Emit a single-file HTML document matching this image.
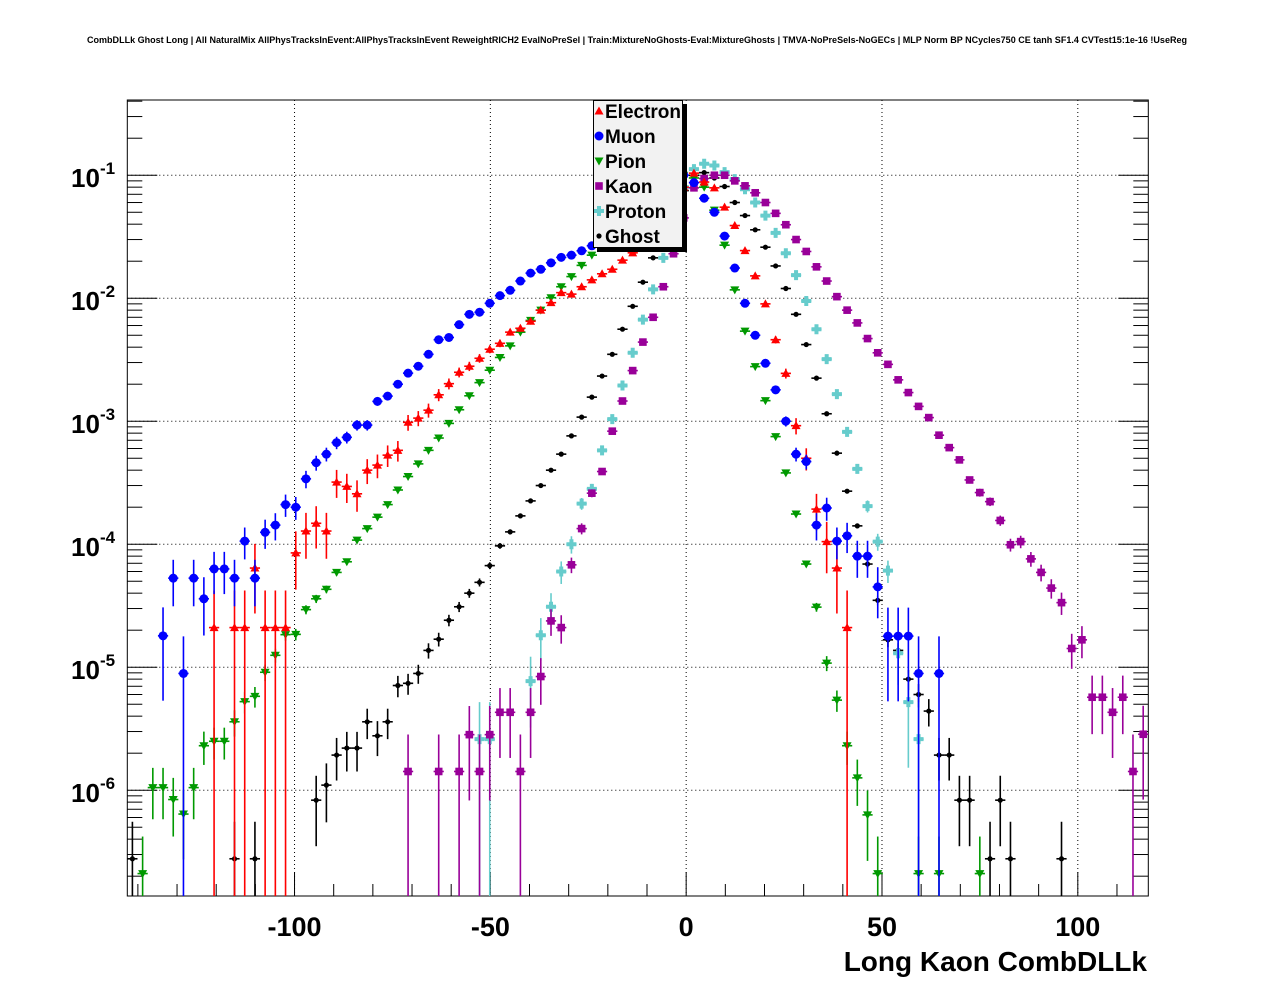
<!DOCTYPE html>
<html><head><meta charset="utf-8"><style>
body{margin:0;background:#fff;}
svg{display:block;font-family:"Liberation Sans",Arial,sans-serif;}
</style></head><body>
<svg id="chart" width="1276" height="996" viewBox="0 0 1276 996">
<rect x="0" y="0" width="1276" height="996" fill="#fff"/>
<text x="637" y="43" text-anchor="middle" font-size="9" font-weight="bold" textLength="1100" lengthAdjust="spacingAndGlyphs">CombDLLk Ghost Long | All NaturalMix AllPhysTracksInEvent:AllPhysTracksInEvent ReweightRICH2 EvalNoPreSel | Train:MixtureNoGhosts-Eval:MixtureGhosts | TMVA-NoPreSels-NoGECs | MLP Norm BP NCycles750 CE tanh SF1.4 CVTest15:1e-16 !UseReg</text>
<g id="grid"></g>
<g id="axes"></g>
<g id="series"></g>
<g id="legend"></g>
<text x="1147" y="971" text-anchor="end" font-size="28" font-weight="bold">Long Kaon CombDLLk</text>
</svg>
<script>
// ---- data ----
const binStart = -142.7;
const binWidth = 2.607;
const xTicks = [-100, -50, 0, 50, 100];
const yDecades = [-6, -5, -4, -3, -2, -1];
const seriesNames = ["Electron", "Muon", "Pion", "Kaon", "Proton", "Ghost"];
const electronStart = 8;
const electronVals = [2.1e-5,null,2.1e-5,2.1e-5,6.4e-5,2.1e-5,2.1e-5,2.1e-5,8.5e-5,1.28e-4,1.48e-4,1.28e-4,3.2e-4,2.95e-4,2.57e-4,4.0e-4,4.4e-4,5.3e-4,5.8e-4,9.8e-4,1.06e-3,1.23e-3,1.64e-3,2.02e-3,2.5e-3,2.8e-3,3.25e-3,3.85e-3,4.3e-3,5.3e-3,5.7e-3,6.5e-3,8.0e-3,9.2e-3,1.11e-2,1.08e-2,1.24e-2,1.41e-2,1.58e-2,1.72e-2,2.04e-2,2.34e-2,0.028,0.035,0.045,0.055,0.08,0.104,0.088,0.079,0.055,0.039,0.0244,0.0152,9.0e-3,4.6e-3,2.45e-3,9.2e-4,5.0e-4,1.93e-4,1.05e-4,6.4e-5,2.1e-5];
const muonStart = 3;
const muonVals = [1.8e-5,5.3e-5,8.9e-6,5.3e-5,3.6e-5,6.3e-5,6.3e-5,5.3e-5,1.06e-4,5.3e-5,1.25e-4,1.43e-4,2.1e-4,2.0e-4,3.4e-4,4.6e-4,5.4e-4,6.7e-4,7.4e-4,9.3e-4,9.3e-4,1.45e-3,1.6e-3,2.0e-3,2.46e-3,2.8e-3,3.5e-3,4.6e-3,4.8e-3,6.1e-3,7.4e-3,7.7e-3,9.1e-3,1.05e-2,1.16e-2,1.38e-2,1.6e-2,1.72e-2,1.94e-2,2.15e-2,2.24e-2,2.43e-2,2.67e-2,0.03,0.035,0.045,0.055,0.065,0.075,0.085,0.095,0.1,8.7e-2,6.5e-2,5.0e-2,3.2e-2,1.76e-2,9.1e-3,5.0e-3,2.96e-3,1.8e-3,1.0e-3,5.4e-4,4.7e-4,1.43e-4,1.97e-4,1.06e-4,1.17e-4,8.0e-5,8.0e-5,4.5e-5,1.79e-5,1.79e-5,1.79e-5,8.9e-6,null,8.9e-6];
const pionStart = 1;
const pionVals = [2.1e-7,1.05e-6,1.05e-6,8.4e-7,6.4e-7,1.05e-6,2.3e-6,2.5e-6,2.5e-6,3.6e-6,5.25e-6,5.8e-6,9.1e-6,1.25e-5,1.84e-5,1.85e-5,2.94e-5,3.6e-5,4.3e-5,5.9e-5,7.2e-5,1.08e-4,1.34e-4,1.66e-4,2.1e-4,2.76e-4,3.55e-4,4.5e-4,5.8e-4,7.3e-4,9.6e-4,1.24e-3,1.61e-3,2.06e-3,2.6e-3,3.3e-3,4.1e-3,5.3e-3,6.6e-3,8.0e-3,1.01e-2,1.24e-2,1.5e-2,1.85e-2,2.24e-2,0.028,0.035,0.043,0.052,0.062,0.072,0.082,0.09,0.1,0.095,0.08,0.052,0.027,0.0117,5.4e-3,2.78e-3,1.47e-3,7.5e-4,3.8e-4,1.76e-4,6.9e-5,3.08e-5,1.08e-5,5.4e-6,2.3e-6,1.26e-6,6.3e-7,2.1e-7,null,null,null,2.1e-7,null,2.1e-7,null,null,null,2.1e-7];
const kaonStart = 27;
const kaonVals = [1.42e-6,null,null,1.42e-6,null,1.42e-6,2.83e-6,1.42e-6,2.83e-6,4.3e-6,4.3e-6,1.42e-6,4.3e-6,8.4e-6,2.38e-5,2.1e-5,6.8e-5,1.34e-4,2.6e-4,3.9e-4,8.3e-4,1.46e-3,2.58e-3,4.4e-3,7.0e-3,1.24e-2,2.3e-2,0.045,7.9e-2,9.4e-2,0.1,0.1,9.0e-2,8.2e-2,7.2e-2,6.0e-2,4.9e-2,3.96e-2,3.0e-2,2.4e-2,1.8e-2,1.38e-2,1.03e-2,8.0e-3,6.3e-3,4.7e-3,3.6e-3,2.9e-3,2.17e-3,1.71e-3,1.32e-3,1.07e-3,7.7e-4,6.1e-4,4.85e-4,3.33e-4,2.63e-4,2.22e-4,1.56e-4,9.9e-5,1.05e-4,7.6e-5,5.9e-5,4.4e-5,3.35e-5,1.42e-5,1.67e-5,5.7e-6,5.7e-6,4.3e-6,5.7e-6,1.42e-6,2.85e-6];
const protonStart = 34;
const protonVals = [2.6e-6,2.6e-6,null,null,null,7.7e-6,1.82e-5,3.1e-5,6.0e-5,1.0e-4,2.14e-4,2.82e-4,5.8e-4,1.04e-3,1.95e-3,3.6e-3,6.7e-3,1.18e-2,2.13e-2,0.04,0.08,0.112,0.124,0.12,0.106,9.3e-2,7.7e-2,6.0e-2,4.7e-2,3.4e-2,2.32e-2,1.54e-2,9.5e-3,5.6e-3,3.2e-3,1.66e-3,8.2e-4,4.1e-4,2.04e-4,1.05e-4,6.1e-5,1.3e-5,5.2e-6,2.6e-6];
const ghostStart = 0;
const ghostVals = [2.77e-7,null,null,null,null,null,null,null,null,null,2.77e-7,null,2.77e-7,null,null,null,null,null,8.3e-7,1.1e-6,1.93e-6,2.2e-6,2.2e-6,3.6e-6,2.77e-6,3.6e-6,7.1e-6,7.4e-6,8.9e-6,1.37e-5,1.69e-5,2.41e-5,3.1e-5,4.0e-5,4.9e-5,6.7e-5,9.7e-5,1.26e-4,1.7e-4,2.25e-4,3.0e-4,4.0e-4,5.4e-4,7.6e-4,1.08e-3,1.57e-3,2.33e-3,3.5e-3,5.6e-3,8.6e-3,1.35e-2,2.13e-2,0.032,0.05,0.075,0.1,0.105,0.095,8.1e-2,6.0e-2,4.7e-2,3.6e-2,2.6e-2,1.83e-2,1.2e-2,7.4e-3,4.2e-3,2.24e-3,1.15e-3,5.5e-4,2.7e-4,1.41e-4,6.9e-5,3.5e-5,1.67e-5,1.37e-5,8.0e-6,6.0e-6,4.4e-6,1.93e-6,1.93e-6,8.3e-7,8.3e-7,null,2.77e-7,8.3e-7,2.77e-7,null,null,null,null,2.77e-7];
// weight of a single entry per species (for Poisson error bars)
const unitWeights = [2.1e-5, 8.9e-6, 2.1e-7, 1.42e-6, 2.6e-6, 2.77e-7];

// ---- axes ----
const X0 = 127.3, X1 = 1148.3, Y0 = 100, Y1 = 896;
const xMin = binStart, xMax = binStart + 100 * binWidth;
const logMin = Math.log10(1.38e-7), logMax = Math.log10(0.409);
function xs(v){ return X0 + (v - xMin) / (xMax - xMin) * (X1 - X0); }
function ys(v){ return Y1 - (Math.log10(v) - logMin) / (logMax - logMin) * (Y1 - Y0); }
const NS = "http://www.w3.org/2000/svg";
function mk(tag, attrs, parent){
  const e = document.createElementNS(NS, tag);
  for (const k in attrs) e.setAttribute(k, attrs[k]);
  parent.appendChild(e);
  return e;
}
const grid = document.getElementById('grid');
const axes = document.getElementById('axes');
const series = document.getElementById('series');
const legend = document.getElementById('legend');

xTicks.forEach(t => {
  const l = mk('line', {x1: xs(t), x2: xs(t), y1: Y0, y2: Y1, stroke: '#000', 'stroke-width': 1, 'stroke-dasharray': '1,3'}, grid);
  
  
});
yDecades.forEach(d => {
  const y = ys(Math.pow(10, d));
  const l = mk('line', {x1: X0, x2: X1, y1: y, y2: y, stroke: '#000', 'stroke-width': 1, 'stroke-dasharray': '1,3'}, grid);
  
  
});

const frame = mk('rect', {x: X0, y: Y0, width: X1 - X0, height: Y1 - Y0, fill: 'none', stroke: '#000', 'stroke-width': 1}, axes);



for (let t = -140; t <= 110; t += 10) {
  const major = (t % 50 === 0);
  const len = major ? 24 : 12;
  const tk = mk('line', {x1: xs(t), x2: xs(t), y1: Y1, y2: Y1 - len, stroke: '#000', 'stroke-width': 1}, axes);
  
  
}
xTicks.forEach(t => {
  const tx = mk('text', {x: xs(t), y: 936, 'text-anchor': 'middle', 'font-size': 27, 'font-weight': 'bold'}, axes);
  tx.textContent = t;
  
  
});
for (let d = -7; d <= -1; d++) {
  for (let m = 1; m <= 9; m++) {
    const v = m * Math.pow(10, d);
    const lv = Math.log10(v);
    if (lv < logMin || lv > logMax) continue;
    const y = ys(v);
    const len = m === 1 ? 30 : 15;
    const a = mk('line', {x1: X0, x2: X0 + len, y1: y, y2: y, stroke: '#000', 'stroke-width': 1}, axes);
    
    
    const b = mk('line', {x1: X1, x2: X1 - len, y1: y, y2: y, stroke: '#000', 'stroke-width': 1}, axes);
    
    
  }
}
yDecades.forEach(d => {
  const y = ys(Math.pow(10, d));
  const t = mk('text', {x: 71, y: y + 12, 'font-size': 26, 'font-weight': 'bold'}, axes);
  t.textContent = '10';
  
  
  const s = mk('text', {x: 100, y: y - 1, 'font-size': 17, 'font-weight': 'bold'}, axes);
  s.textContent = String(d);
  
  
});

// ---- markers ----
const colors = ['#ff0000', '#0000ff', '#009900', '#990099', '#66cccc', '#000000'];
function marker(kind, cx, cy, parent){
  const c = colors[kind];
  let e;
  if (kind === 0) e = mk('polygon', {points: `${cx-4.5},${cy+3.5} ${cx+4.5},${cy+3.5} ${cx},${cy-4.5}`, fill: c}, parent);
  else if (kind === 1) e = mk('circle', {cx: cx, cy: cy, r: 4.5, fill: c}, parent);
  else if (kind === 2) e = mk('polygon', {points: `${cx-4.5},${cy-3.5} ${cx+4.5},${cy-3.5} ${cx},${cy+4.5}`, fill: c}, parent);
  else if (kind === 3) e = mk('rect', {x: cx - 3.8, y: cy - 3.8, width: 7.6, height: 7.6, fill: c}, parent);
  else if (kind === 4) e = mk('path', {d: `M${cx-5},${cy-2}h3v-3h4v3h3v4h-3v3h-4v-3h-3z`, fill: c}, parent);
  else e = mk('circle', {cx: cx, cy: cy, r: 2.6, fill: c}, parent);
  return e;
}

const allStarts = [electronStart, muonStart, pionStart, kaonStart, protonStart, ghostStart];
const allVals = [electronVals, muonVals, pionVals, kaonVals, protonVals, ghostVals];
const drawOrder = [5, 4, 3, 2, 0, 1];
drawOrder.forEach(s => {
  const g = mk('g', {}, series);
  
  
  const vals = allVals[s];
  vals.forEach((v, i) => {
    if (v === null) return;
    const k = allStarts[s] + i;
    const xc = binStart + (k + 0.5) * binWidth;
    const px = xs(xc), py = ys(v);
    const err = Math.sqrt(v * unitWeights[s]);
    const top = ys(v + err);
    const low = v - err;
    const bot = low > 1.38e-7 ? ys(low) : Y1;
    const eb = mk('line', {x1: px, x2: px, y1: Math.max(Y0, top), y2: Math.min(Y1, bot), stroke: colors[s], 'stroke-width': 1.6}, g);
    
    
    const hb = mk('line', {x1: xs(xc - binWidth / 2), x2: xs(xc + binWidth / 2), y1: py, y2: py, stroke: colors[s], 'stroke-width': 1.6}, g);
    
    
    const m = marker(s, px, py, g);
    
    
  });
});

// ---- legend ----
const sh = mk('rect', {x: 597, y: 104, width: 90, height: 148, fill: '#000'}, legend);


const box = mk('rect', {x: 593.5, y: 100.5, width: 89, height: 147, fill: '#f2f2f2', stroke: '#000', 'stroke-width': 1}, legend);


seriesNames.forEach((n, i) => {
  const y = 111 + i * 25;
  const eg = mk('g', {}, legend);
  
  
  const m = marker(i, 599, y, eg);
  
  
  const t = mk('text', {x: 605, y: y + 7, 'font-size': 19, 'font-weight': 'bold'}, eg);
  t.textContent = n;
  
  
});
</script>
</body></html>
